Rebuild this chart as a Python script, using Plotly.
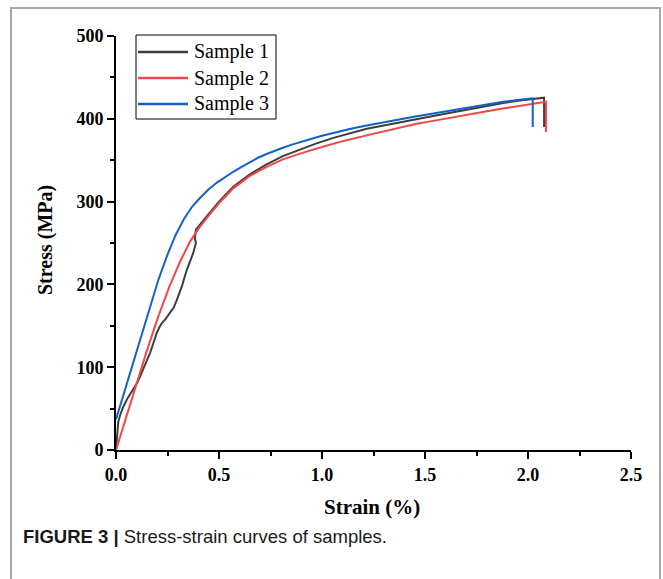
import plotly.graph_objects as go

# Sample 1 (dark grey) — strain in %, stress in MPa
strain_1 = [0, 0.003, 0.008, 0.011, 0.02, 0.035, 0.055, 0.076, 0.09, 0.105, 0.117, 0.14,
            0.165, 0.18, 0.197, 0.21, 0.222, 0.24, 0.262, 0.28, 0.295, 0.32, 0.343, 0.36,
            0.375, 0.388, 0.383, 0.388, 0.41, 0.44, 0.50, 0.569, 0.65, 0.731, 0.81, 0.893,
            0.97, 1.055, 1.14, 1.217, 1.30, 1.379, 1.46, 1.54, 1.637, 1.72, 1.80, 1.88,
            1.96, 2.03, 2.078, 2.078]
stress_1 = [0, 12, 26, 34, 42, 52, 62, 70, 75, 82, 89, 102,
            117, 128, 141, 148, 153, 158, 165, 172, 181, 198, 217, 228,
            238, 250, 256, 266, 273, 282, 300, 318, 333, 345, 355, 363,
            370, 377, 383, 388, 392, 395.5, 399.5, 403.5, 408, 412, 416, 419,
            422, 424.5, 425.5, 390]

# Sample 2 (red)
strain_2 = [0, 0.05, 0.10, 0.15, 0.205, 0.26, 0.31, 0.36, 0.40, 0.44, 0.50, 0.569,
            0.65, 0.731, 0.81, 0.893, 1.0, 1.1, 1.217, 1.30, 1.379, 1.46, 1.54, 1.637,
            1.72, 1.80, 1.88, 1.96, 2.03, 2.087, 2.087]
stress_2 = [0, 41, 81, 120, 161, 198, 227, 252, 267, 280, 298, 316,
            331, 342, 351, 358, 366, 373, 380, 385, 389.5, 394, 397.5, 401.5,
            405.5, 409, 412.5, 415.5, 418.5, 420.7, 384]

# Sample 3 (blue)
strain_3 = [0, 0.04, 0.08, 0.12, 0.16, 0.205, 0.25, 0.29, 0.33, 0.37, 0.41, 0.45,
            0.49, 0.53, 0.569, 0.61, 0.65, 0.69, 0.731, 0.77, 0.81, 0.85, 0.893, 0.95,
            1.0, 1.055, 1.14, 1.217, 1.30, 1.379, 1.46, 1.54, 1.637, 1.72, 1.80, 1.88,
            1.96, 2.023, 2.023]
stress_3 = [37, 70, 104, 138, 171, 205, 236, 260, 279, 294, 305, 315,
            323, 330, 336, 342, 348, 353, 357.5, 361.5, 365, 368.5, 372, 376,
            379.5, 383, 388, 392, 396, 399.5, 403, 406.5, 410.6, 414, 417.5, 420.5,
            423, 424.7, 390]

series = [
    ("Sample 1", strain_1, stress_1, "#3d3d3d"),
    ("Sample 2", strain_2, stress_2, "#f04848"),
    ("Sample 3", strain_3, stress_3, "#1262c4"),
]

x_ticks = [0.0, 0.5, 1.0, 1.5, 2.0, 2.5]
x_tick_text = ["0.0", "0.5", "1.0", "1.5", "2.0", "2.5"]
y_ticks = [0, 100, 200, 300, 400, 500]

W, H = 663, 579
L, R, T, B = 116, 32, 36, 129
pw, ph = W - L - R, H - T - B


def px_x(p):
    return (p - L) / pw


def px_y(p):
    return (H - B - p) / ph


fig = go.Figure()
for name, xs, ys, color in series:
    fig.add_trace(go.Scatter(x=xs, y=ys, mode="lines", name=name,
                             line=dict(color=color, width=2), showlegend=False))

serif = "Liberation Serif"
axis_common = dict(
    showline=True, linecolor="black", linewidth=2,
    ticks="outside", ticklen=7, tickwidth=2, tickcolor="black",
    showgrid=False, zeroline=False, mirror=False,
    tickfont=dict(family=serif, size=18, color="black", weight="bold"),
)

fig.update_xaxes(range=[0, 2.5], tickvals=x_ticks, ticktext=x_tick_text,
                 minor=dict(ticks="outside", ticklen=4, tickwidth=2, dtick=0.25,
                            tick0=0, tickcolor="black"),
                 **axis_common)
fig.update_yaxes(range=[0, 500], tickvals=y_ticks,
                 minor=dict(ticks="outside", ticklen=4, tickwidth=2, dtick=50,
                            tick0=0, tickcolor="black"),
                 **axis_common)

# Axis titles
fig.add_annotation(text="<b>Strain (%)</b>", xref="paper", yref="paper",
                   x=px_x(372), y=px_y(507), showarrow=False,
                   xanchor="center", yanchor="middle",
                   font=dict(family=serif, size=21, color="black"))
fig.add_annotation(text="<b>Stress (MPa)</b>", xref="paper", yref="paper",
                   x=px_x(45), y=px_y(240), showarrow=False, textangle=-90,
                   xanchor="center", yanchor="middle",
                   font=dict(family=serif, size=20, color="black"))

# Legend box with a line sample and label per series
fig.add_shape(type="rect", xref="paper", yref="paper",
              x0=px_x(136), x1=px_x(276), y0=px_y(35), y1=px_y(119),
              line=dict(color="black", width=1), fillcolor="white", layer="above")
row_y = [52, 78, 104]
for (name, _, _, color), ry in zip(series, row_y):
    fig.add_shape(type="line", xref="paper", yref="paper",
                  x0=px_x(138), x1=px_x(188), y0=px_y(ry), y1=px_y(ry),
                  line=dict(color=color, width=2.5), layer="above")
    fig.add_annotation(text=name, xref="paper", yref="paper",
                       x=px_x(192), y=px_y(ry), showarrow=False,
                       xanchor="left", yanchor="middle",
                       font=dict(family=serif, size=20, color="black"))

# Figure caption
fig.add_annotation(text="<b>FIGURE 3 |</b> Stress-strain curves of samples.",
                   xref="paper", yref="paper", x=px_x(21), y=px_y(536),
                   showarrow=False, xanchor="left", yanchor="middle",
                   font=dict(family="Liberation Sans", size=18.5, color="#1a1a1a"))

# Light grey frame around the figure
fig.add_shape(type="rect", xref="paper", yref="paper",
              x0=px_x(11), x1=px_x(660), y0=px_y(8), y1=px_y(600),
              line=dict(color="#a8a8a8", width=2), fillcolor="rgba(0,0,0,0)",
              layer="below")

fig.update_layout(
    width=W, height=H,
    margin=dict(l=L, r=R, t=T, b=B, autoexpand=False),
    paper_bgcolor="white", plot_bgcolor="white",
    showlegend=False,
)

fig.write_html("out.html")
